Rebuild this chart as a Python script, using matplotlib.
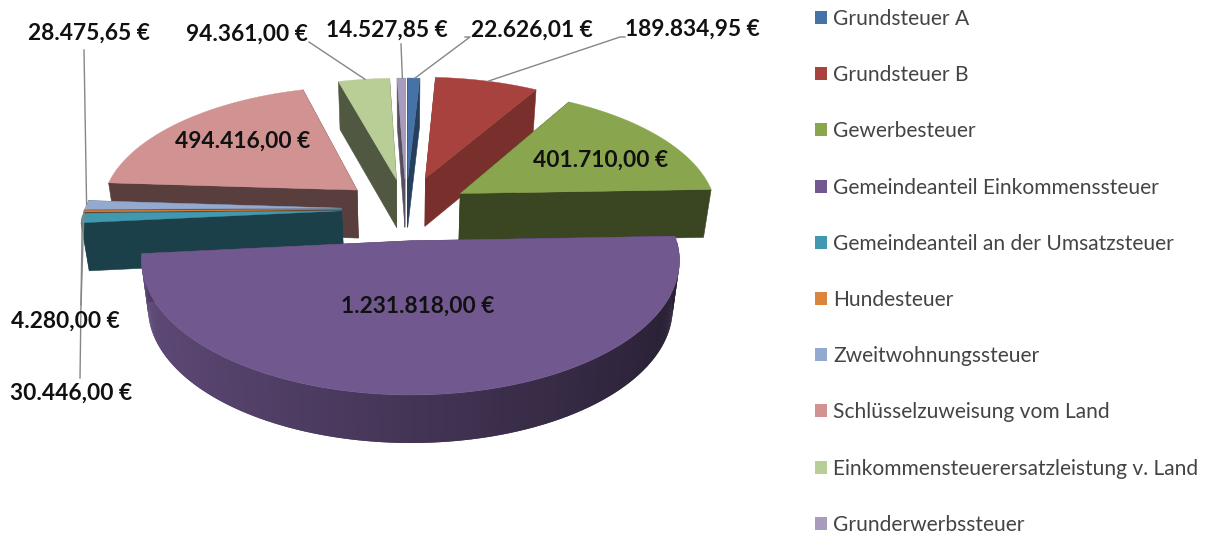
import numpy as np
from matplotlib import pyplot as plt
from matplotlib.colors import to_rgb
from matplotlib.patches import Patch, Polygon

# =========================
# Data
# =========================
CATEGORIES = [
    "Grundsteuer A",
    "Grundsteuer B",
    "Gewerbesteuer",
    "Gemeindeanteil Einkommenssteuer",
    "Gemeindeanteil an der Umsatzsteuer",
    "Hundesteuer",
    "Zweitwohnungssteuer",
    "Schlüsselzuweisung vom Land",
    "Einkommensteuerersatzleistung v. Land",
    "Grunderwerbssteuer",
]
VALUES = [22626.01, 189834.95, 401710.00, 1231818.00, 30446.00,
          4280.00, 28475.65, 494416.00, 94361.00, 14527.85]
VALUE_LABELS = ["22.626,01 €", "189.834,95 €", "401.710,00 €", "1.231.818,00 €", "30.446,00 €",
                "4.280,00 €", "28.475,65 €", "494.416,00 €", "94.361,00 €", "14.527,85 €"]

# =========================
# Styling
# =========================
COLORS = ["#4572a7", "#a8423f", "#89a54e", "#71588f", "#4198af",
          "#db843d", "#93a9cf", "#d19392", "#b9cd96", "#a99bbd"]
WALL_FACTOR = [0.55, 0.72, 0.42, 0.7, 0.42, 0.5, 0.5, 0.42, 0.43, 0.5]
EXPLODE = [0.25, 0.27, 0.25, 0.25, 0.25, 0.25, 0.25, 0.25, 0.25, 0.25]

CX, CY = 406.0, 209.0
RX, RY = 257.0, 123.0
PERSPECTIVE = 0.139
DEPTH = 48.0
BOTTOM_SHRINK = 0.975

# label centre, and leader start (None = no leader)
LABEL_POS = [(532, 30), (692, 29), (601, 160), (418, 306), (71, 393),
             (65, 321), (89, 33), (243, 141), (247, 34), (387, 30)]
LEADER_START = [(465, 37), (625, 37), None, None, (80, 378),
                (81, 305), (84, 50), None, (309, 42), (401, 44)]
LEADER_KNEE = [(470, 37), (620, 37), None, None, None,
               None, None, None, None, None]

plt.rcParams["font.family"] = ["Lato", "DejaVu Sans"]


def project(u, v):
    s = 1.0 / (1.0 + PERSPECTIVE * v)
    return CX + RX * u * s, CY - RY * v * s


def drop(x, y):
    return CX + (x - CX) * BOTTOM_SHRINK, y + DEPTH


def shade(color, factor):
    return tuple(c * factor for c in to_rgb(color))


def draw_slice(ax, t0, t1, color, wall, explode):
    mid = 0.5 * (t0 + t1)
    ou, ov = explode * np.sin(mid), explode * np.cos(mid)
    th = np.linspace(t0, t1, max(int((t1 - t0) * 100), 2) + 1)
    rim_x, rim_y = project(ou + np.sin(th), ov + np.cos(th))
    ax_, ay_ = project(ou, ov)

    # outer wall only on the part turned towards the viewer, darkens to the right
    for i in range(len(th) - 2):
        if np.cos(th[i]) > 0.0:
            continue
        # overlap with the next strip so no seams show
        bx0, by0 = drop(rim_x[i], rim_y[i])
        bx1, by1 = drop(rim_x[i + 2], rim_y[i + 2])
        f = np.interp(np.sin(th[i]), [-1.0, 1.0], [0.84, 0.36])
        ax.add_patch(Polygon([(rim_x[i], rim_y[i]), (rim_x[i + 2], rim_y[i + 2]), (bx1, by1), (bx0, by0)],
                             facecolor=shade(color, f), edgecolor="none"))

    # radial walls
    for x, y in [(rim_x[0], rim_y[0]), (rim_x[-1], rim_y[-1])]:
        bx, by = drop(x, y)
        abx, aby = drop(ax_, ay_)
        ax.add_patch(Polygon([(ax_, ay_), (x, y), (bx, by), (abx, aby)],
                             facecolor=shade(color, wall), edgecolor=shade(color, wall), lw=0.4))

    top = [(ax_, ay_)] + list(zip(rim_x, rim_y))
    ax.add_patch(Polygon(top, facecolor=color, edgecolor=color, lw=0.3))
    return rim_x, rim_y


def main():
    fig = plt.figure(figsize=(12.07, 5.36), dpi=100)
    ax = fig.add_axes([0, 0, 1, 1])
    ax.set_xlim(0, 1207)
    ax.set_ylim(536, 0)
    ax.axis("off")

    values = np.asarray(VALUES)
    edges = np.concatenate([[0.0], np.cumsum(values) / values.sum()]) * 2 * np.pi
    mids = 0.5 * (edges[:-1] + edges[1:])

    rims = {}
    for i in np.argsort(-np.cos(mids)):
        rims[i] = draw_slice(ax, edges[i], edges[i + 1], COLORS[i], WALL_FACTOR[i], EXPLODE[i])

    # leaders run from the label to the middle of the slice rim
    for i, start in enumerate(LEADER_START):
        if start is None:
            continue
        rim_x, rim_y = rims[i]
        k = len(rim_x) // 2
        pts = [start]
        if LEADER_KNEE[i] is not None:
            pts.append(LEADER_KNEE[i])
        pts.append((rim_x[k], rim_y[k]))
        ax.plot(*zip(*pts), color="#868686", lw=1.0, zorder=6)

    for label, (x, y) in zip(VALUE_LABELS, LABEL_POS):
        ax.text(x, y, label, ha="center", va="center", fontsize=16.4, fontweight="bold",
                color="#111111", zorder=7)

    handles = [Patch(facecolor=c, edgecolor="none") for c in COLORS]
    ax.legend(handles, CATEGORIES, loc="upper left", bbox_to_anchor=(815 / 1207, 1 - 9 / 536),
              bbox_transform=fig.transFigure, frameon=False, fontsize=15.15, labelcolor="#444444",
              handlelength=0.57, handleheight=0.57, handletextpad=0.3, labelspacing=1.72,
              borderpad=0, borderaxespad=0)

    fig.savefig("out.png", dpi=100)
    plt.close(fig)


if __name__ == "__main__":
    main()
